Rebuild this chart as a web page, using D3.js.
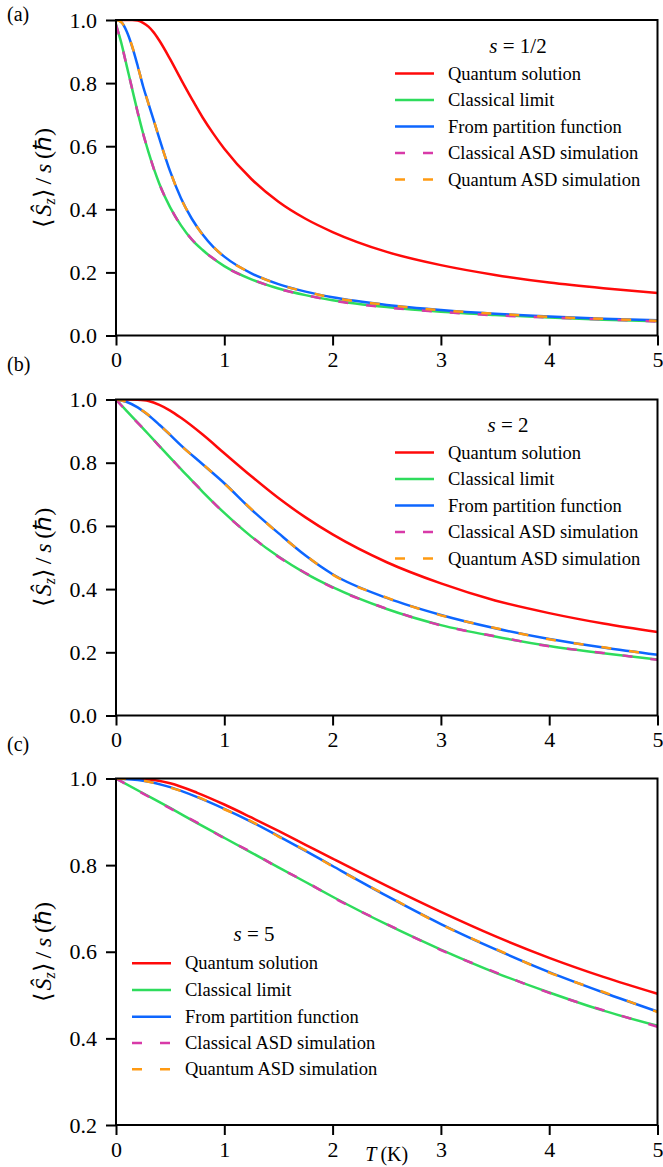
<!DOCTYPE html>
<html><head><meta charset="utf-8">
<script src="https://cdn.jsdelivr.net/npm/d3@7"></script>
<style>
html,body{margin:0;padding:0;background:#fff;}
svg text{font-family:"Liberation Serif","Times New Roman",serif !important;fill:#000;}
</style></head>
<body><svg id="chart" width="663" height="1167"></svg>
<script>
// ---------- data ----------
const xTicks = [0, 1, 2, 3, 4, 5];
const yTicksAB = [0.0, 0.2, 0.4, 0.6, 0.8, 1.0];
const yTicksC = [0.2, 0.4, 0.6, 0.8, 1.0];
const seriesNames = ["Quantum solution", "Classical limit", "From partition function", "Classical ASD simulation", "Quantum ASD simulation"];
const panelLabels = ["(a)", "(b)", "(c)"];
const spinTitles = ["1/2", "2", "5"];

// panel (a) s = 1/2
const tA = [0, 0.05, 0.1, 0.15, 0.2, 0.25, 0.3, 0.35, 0.4, 0.5, 0.6, 0.7, 0.8, 0.9, 1, 1.25, 1.5, 1.75, 2, 2.5, 3, 3.5, 4, 4.5, 5];
const quantumA   = [1, 1, 1, 1, 0.998, 0.991, 0.979, 0.960, 0.935, 0.876, 0.812, 0.750, 0.691, 0.639, 0.592, 0.496, 0.424, 0.370, 0.328, 0.265, 0.223, 0.192, 0.168, 0.150, 0.135];
const classicalA = [0.985, 0.926, 0.853, 0.780, 0.708, 0.641, 0.581, 0.528, 0.481, 0.406, 0.349, 0.304, 0.271, 0.243, 0.220, 0.178, 0.149, 0.128, 0.112, 0.090, 0.075, 0.065, 0.057, 0.050, 0.045];
const partitionA = [1, 0.993, 0.963, 0.915, 0.855, 0.790, 0.735, 0.680, 0.625, 0.520, 0.435, 0.370, 0.320, 0.280, 0.250, 0.197, 0.163, 0.139, 0.121, 0.097, 0.081, 0.069, 0.060, 0.053, 0.048];
const simClassicalA = [0.985, 0.925, 0.852, 0.781, 0.707, 0.640, 0.582, 0.527, 0.480, 0.407, 0.348, 0.305, 0.270, 0.244, 0.219, 0.179, 0.148, 0.128, 0.111, 0.089, 0.075, 0.064, 0.057, 0.051, 0.044];
const simQuantumA   = [1, 0.993, 0.962, 0.916, 0.854, 0.791, 0.734, 0.681, 0.624, 0.521, 0.434, 0.371, 0.319, 0.281, 0.249, 0.198, 0.162, 0.139, 0.120, 0.097, 0.080, 0.069, 0.059, 0.053, 0.047];

// panel (b) s = 2
const tB = [0, 0.1, 0.2, 0.3, 0.4, 0.5, 0.6, 0.8, 1, 1.25, 1.5, 1.75, 2, 2.5, 3, 3.5, 4, 4.5, 5];
const quantumB   = [1, 1, 0.999, 0.995, 0.983, 0.965, 0.942, 0.889, 0.830, 0.757, 0.688, 0.627, 0.573, 0.485, 0.418, 0.364, 0.324, 0.291, 0.264];
const classicalB = [1, 0.963, 0.927, 0.890, 0.853, 0.816, 0.780, 0.708, 0.641, 0.566, 0.503, 0.450, 0.406, 0.337, 0.286, 0.250, 0.220, 0.197, 0.177];
const partitionB = [1, 0.992, 0.975, 0.950, 0.920, 0.888, 0.855, 0.795, 0.735, 0.652, 0.577, 0.506, 0.447, 0.372, 0.318, 0.276, 0.242, 0.215, 0.192];
const simClassicalB = [1, 0.962, 0.926, 0.891, 0.852, 0.817, 0.779, 0.709, 0.640, 0.567, 0.502, 0.451, 0.405, 0.338, 0.285, 0.251, 0.219, 0.198, 0.176];
const simQuantumB   = [1, 0.992, 0.974, 0.951, 0.919, 0.889, 0.854, 0.796, 0.734, 0.653, 0.576, 0.507, 0.446, 0.373, 0.317, 0.277, 0.241, 0.216, 0.191];

// panel (c) s = 5
const tC = [0, 0.25, 0.5, 0.75, 1, 1.25, 1.5, 1.75, 2, 2.5, 3, 3.5, 4, 4.5, 5];
const quantumC   = [1, 0.999, 0.989, 0.967, 0.940, 0.910, 0.879, 0.847, 0.815, 0.752, 0.692, 0.636, 0.586, 0.542, 0.503];
const classicalC = [1, 0.966, 0.932, 0.897, 0.863, 0.829, 0.795, 0.761, 0.727, 0.663, 0.605, 0.552, 0.506, 0.464, 0.429];
const partitionC = [1, 0.995, 0.980, 0.957, 0.930, 0.900, 0.867, 0.833, 0.798, 0.729, 0.664, 0.606, 0.553, 0.506, 0.462];
const simClassicalC = [1, 0.965, 0.931, 0.898, 0.862, 0.830, 0.794, 0.762, 0.726, 0.664, 0.604, 0.553, 0.505, 0.465, 0.427];
const simQuantumC   = [1, 0.995, 0.979, 0.958, 0.929, 0.901, 0.866, 0.834, 0.797, 0.730, 0.663, 0.607, 0.552, 0.507, 0.461];

// ---------- styles / layout ----------
const colors = ["#ff0a0a", "#2edc5c", "#0d66ff", "#d83aa8", "#ff9a12"];
const dashed = [false, false, false, true, true];
const LW = 2.5;
const DASH = "10,18";
const SERIF = "'Liberation Serif', 'Times New Roman', serif";

const layout = [
  {t: tA, series: [quantumA, classicalA, partitionA, simClassicalA, simQuantumA], top: 20, bottom: 335.5, yDomain: [0, 1], yTicks: yTicksAB,
   labelY: 21, legX: 395, legRows: [73.5, 100, 126.5, 153, 179.5], legTitleX: 518, legTitleY: 53},
  {t: tB, series: [quantumB, classicalB, partitionB, simClassicalB, simQuantumB], top: 399.5, bottom: 715.5, yDomain: [0, 1], yTicks: yTicksAB,
   labelY: 371, legX: 395, legRows: [452.5, 479, 505.5, 532, 558.5], legTitleX: 508, legTitleY: 432},
  {t: tC, series: [quantumC, classicalC, partitionC, simClassicalC, simQuantumC], top: 778.5, bottom: 1125, yDomain: [0.2, 1], yTicks: yTicksC,
   labelY: 751, legX: 132, legRows: [963.3, 990, 1016.7, 1043, 1069.3], legTitleX: 254, legTitleY: 941}
];

const svg = d3.select("#chart");
const x = d3.scaleLinear().domain([0, 5]).range([116, 657.5]);

layout.forEach((p, pi) => {
  const y = d3.scaleLinear().domain(p.yDomain).range([p.bottom, p.top]);
  const g = svg.append("g");

  const clipId = "clip" + pi;
  svg.append("clipPath").attr("id", clipId).append("rect")
    .attr("x", x(0)).attr("y", p.top).attr("width", x(5) - x(0)).attr("height", p.bottom - p.top);
  const curves = g.append("g").attr("clip-path", `url(#${clipId})`);
  p.series.forEach((vals, si) => {
    const pts = p.t.map((tt, i) => [tt, vals[i]]);
    const line = d3.line().x(d => x(d[0])).y(d => y(d[1])).curve(d3.curveMonotoneX);
    curves.append("path").attr("d", line(pts))
      .attr("fill", "none").attr("stroke", colors[si]).attr("stroke-width", LW)
      .attr("stroke-dasharray", dashed[si] ? DASH : null);
  });

  const ax = g.append("g").attr("transform", `translate(0,${p.bottom})`)
    .call(d3.axisBottom(x).tickValues(xTicks).tickFormat(d3.format("d")).tickSize(10).tickPadding(6).tickSizeOuter(0));
  const ay = g.append("g").attr("transform", `translate(${x(0)},0)`)
    .call(d3.axisLeft(y).tickValues(p.yTicks).tickFormat(d3.format(".1f")).tickSize(10).tickPadding(9).tickSizeOuter(0));
  [ax, ay].forEach(a => {
    a.attr("font-family", null).attr("font-size", null);
    a.select(".domain").remove();
    a.selectAll(".tick line").attr("stroke", "#000").attr("stroke-width", 2);
    a.selectAll(".tick text").style("font-size", "22px").style("font-family", SERIF).attr("fill", "#000");
  });

  g.append("rect").attr("x", x(0)).attr("y", p.top).attr("width", x(5) - x(0)).attr("height", p.bottom - p.top)
    .attr("fill", "none").attr("stroke", "#000").attr("stroke-width", 2);

  g.append("text").attr("x", 7).attr("y", p.labelY).style("font-size", "20px").text(panelLabels[pi]);

  const yl = g.append("text")
    .attr("transform", `translate(51,${(p.top + p.bottom) / 2}) rotate(-90)`)
    .attr("text-anchor", "middle").style("font-size", "24px");
  yl.append("tspan").text("\u27E8\u200A");
  yl.append("tspan").attr("font-style", "italic").text("\u015C");
  yl.append("tspan").attr("font-style", "italic").style("font-size", "16px").attr("dy", 4).text("z");
  yl.append("tspan").attr("dy", -4).text("\u27E9\u2009/\u2009");
  yl.append("tspan").attr("font-style", "italic").text("s");
  yl.append("tspan").text("\u2009(\u210F)");

  const lg = g.append("g");
  const title = lg.append("text").attr("x", p.legTitleX).attr("y", p.legTitleY).attr("text-anchor", "middle").style("font-size", "21px");
  title.append("tspan").attr("font-style", "italic").text("s");
  title.append("tspan").text(" = " + spinTitles[pi]);
  seriesNames.forEach((name, si) => {
    const ry = p.legRows[si];
    lg.append("line").attr("x1", p.legX).attr("x2", p.legX + 39).attr("y1", ry).attr("y2", ry)
      .attr("stroke", colors[si]).attr("stroke-width", LW)
      .attr("stroke-dasharray", dashed[si] ? DASH : null);
    lg.append("text").attr("x", p.legX + 53).attr("y", ry + 6).style("font-size", "18.5px").text(name);
  });
});

const xl = svg.append("text").attr("x", (x(0) + x(5)) / 2).attr("y", 1161).attr("text-anchor", "middle").style("font-size", "20px");
xl.append("tspan").attr("font-style", "italic").text("T");
xl.append("tspan").text("\u2009(K)");
</script>
</body></html>
